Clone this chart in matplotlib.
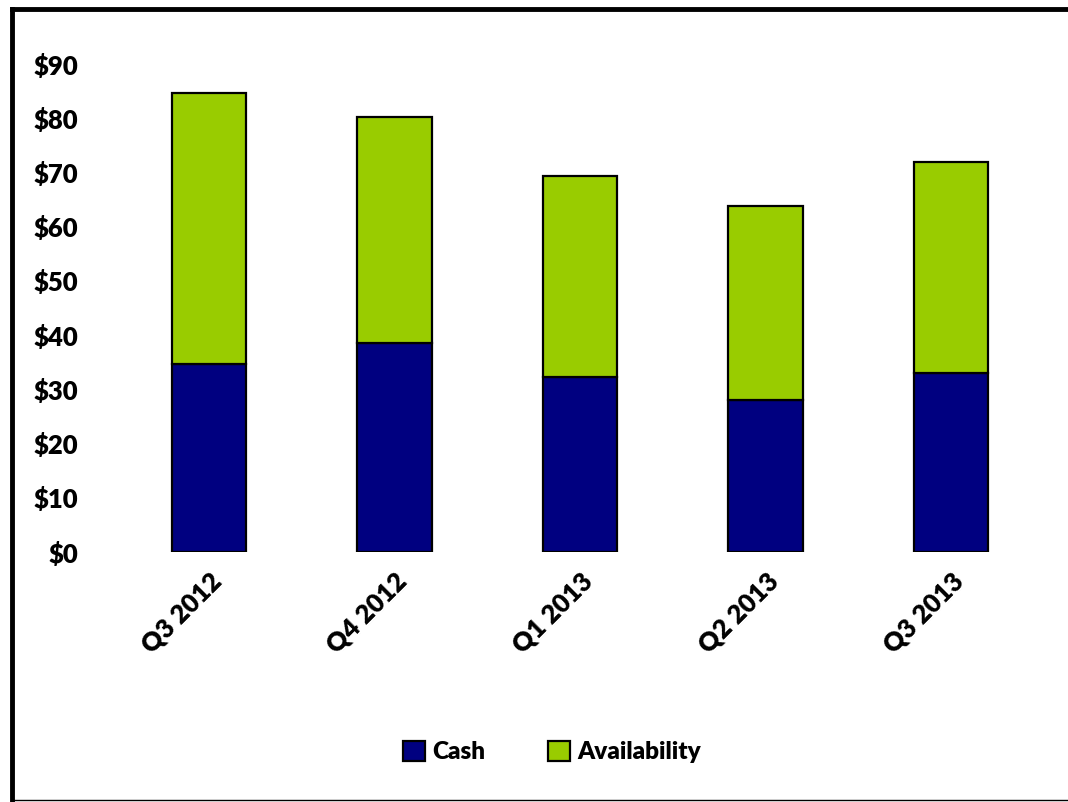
import numpy as np
import matplotlib
matplotlib.use("Agg")
import matplotlib.pyplot as plt
from matplotlib.lines import Line2D

#data
quarters = ["Q3 2012", "Q4 2012", "Q1 2013", "Q2 2013", "Q3 2013"]
cash = [34.7, 38.6, 32.3, 28.0, 33.0]
total = [84.6, 80.2, 69.3, 63.9, 71.9]
availability = [t - c for t, c in zip(total, cash)]
yticks = [0, 10, 20, 30, 40, 50, 60, 70, 80, 90]

plt.rcParams['font.family'] = ['Lato', 'DejaVu Sans']
W = 'heavy'

fig = plt.figure(figsize=(10.68, 8.02), dpi=100)
ax = fig.add_axes([116/1068, 1 - 552/802, (1044 - 116)/1068, (552 - 64)/802])

x = np.arange(len(quarters))
ax.bar(x, cash, width=0.4, color='#000080', edgecolor='black', linewidth=1.6, label='Cash')
ax.bar(x, availability, width=0.4, bottom=cash, color='#99CC00', edgecolor='black',
       linewidth=1.6, label='Availability')

ax.set_xlim(-0.5, len(quarters) - 0.5)
ax.set_ylim(0, 90)
ax.set_yticks(yticks)
ax.set_yticklabels(['$' + str(v) for v in yticks], fontsize=18.5, fontweight=W)
ax.set_xticks(x)
ax.set_xticklabels(quarters, rotation=45, ha='right', rotation_mode='anchor',
                   fontsize=18.5, fontweight=W)
ax.tick_params(axis='x', length=0, pad=12)
ax.tick_params(axis='y', length=0, pad=27)
for s in ax.spines.values():
    s.set_visible(False)

ax.legend(loc='center', bbox_to_anchor=(552/1068, 1 - 752/802), bbox_transform=fig.transFigure,
          ncol=2, frameon=False, handlelength=0.9, handleheight=0.9,
          columnspacing=2.6, handletextpad=0.3, prop={'weight': W, 'size': 17.5})

#outer border of the picture
fig.add_artist(Line2D([12/1068, 1], [1 - 9/802, 1 - 9/802], color='black', linewidth=3.5))
fig.add_artist(Line2D([12/1068, 12/1068], [1 - 9/802, 1 - 800/802], color='black', linewidth=3.5))
fig.add_artist(Line2D([12/1068, 1], [1 - 800/802, 1 - 800/802], color='black', linewidth=1))

fig.savefig("out.png", dpi=100)
